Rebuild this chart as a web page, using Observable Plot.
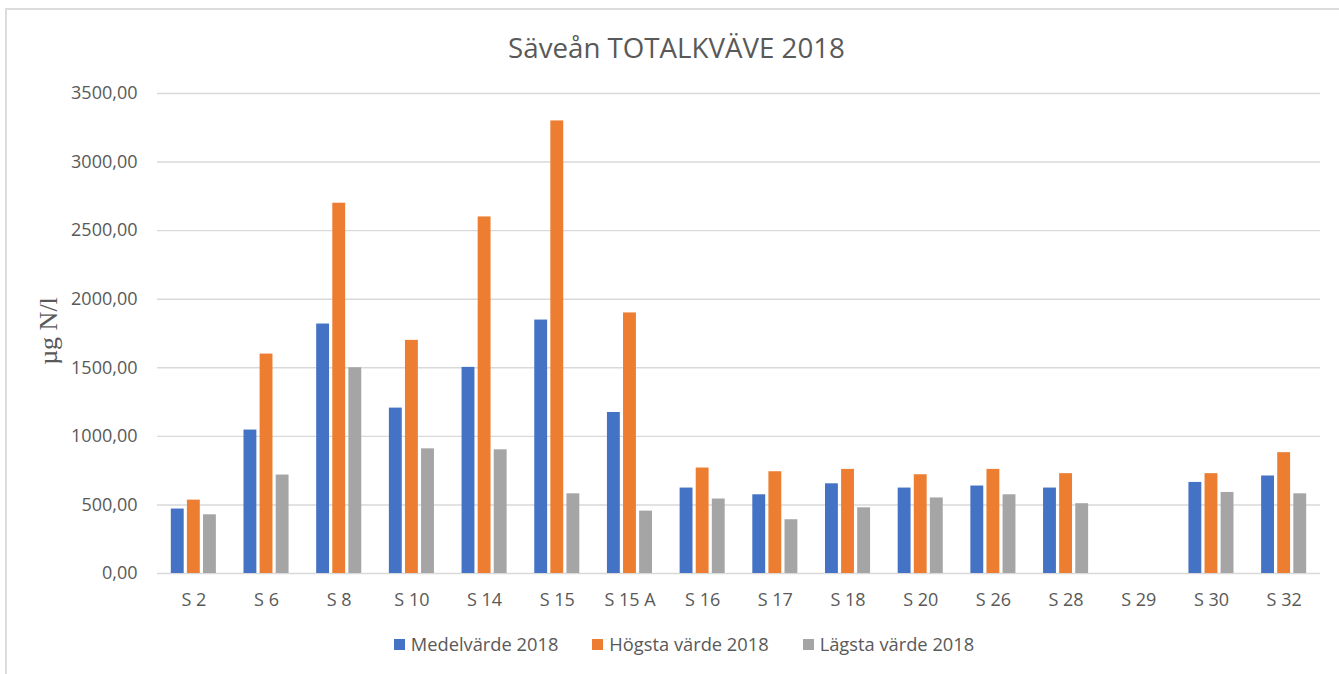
<!DOCTYPE html>
<html>
<head>
<meta charset="utf-8">
<script src="https://cdn.jsdelivr.net/npm/d3@7"></script>
<script src="https://cdn.jsdelivr.net/npm/@observablehq/plot@0.6"></script>
<style>
  body { margin: 0; background: #fff; font-family: "Open Sans", sans-serif; }
  #wrap { position: relative; width: 1339px; height: 674px; overflow: hidden; background: #fff; }
  #frame { position: absolute; left: 5px; top: 8px; width: 1400px; height: 700px; border: 2px solid #dcdcdc; box-sizing: border-box; }
  #title { position: absolute; left: 7px; width: 1339px; top: 31px; text-align: center; font-size: 27.7px; line-height: 32px; color: #595959; }
  #ylabel { position: absolute; left: 49px; top: 331px; transform: translate(-50%, -50%) rotate(-90deg); font-family: "Liberation Serif", serif; font-size: 26px; color: #595959; white-space: nowrap; }
  #legend { position: absolute; left: 0; width: 1339px; top: 632px; display: flex; justify-content: center; gap: 34px; font-size: 18.3px; color: #595959; line-height: 24px; padding-left: 29px; box-sizing: border-box; }
  .item { display: flex; align-items: center; }
  .sw { width: 11px; height: 11px; margin-right: 6px; }
  .layer { position: absolute; left: 0; top: 0; }
</style>
</head>
<body>
<div id="wrap">
  <div id="frame"></div>
  <div id="grid" class="layer"></div>
  <div id="chart" class="layer"></div>
  <div id="title"></div>
  <div id="ylabel"></div>
  <div id="legend"></div>
</div>
<script>
const titleText = "Säveån TOTALKVÄVE 2018";
const yLabelText = "µg N/l";
const stations = ["S 2","S 6","S 8","S 10","S 14","S 15","S 15 A","S 16","S 17","S 18","S 20","S 26","S 28","S 29","S 30","S 32"];
const medel  = [470, 1046, 1819, 1206, 1503, 1848, 1174, 623, 574, 654, 623, 638, 623, null, 664, 711];
const hogsta = [535, 1600, 2700, 1700, 2600, 3300, 1900, 769, 742, 759, 720, 759, 728, null, 728, 881];
const lagsta = [428,  718, 1500,  909,  902,  581,  455, 543, 392, 479, 551, 574, 509, null, 591, 581];
const seriesNames = ["Medelvärde 2018", "Högsta värde 2018", "Lägsta värde 2018"];
const seriesColors = ["#4472C4", "#ED7D31", "#A5A5A5"];
const yTicks = [0, 500, 1000, 1500, 2000, 2500, 3000, 3500];

const seriesValues = [medel, hogsta, lagsta];
const rows = stations.flatMap((s, i) =>
  seriesNames.map((name, k) => ({station: s, series: name, value: seriesValues[k][i]}))
).filter(d => d.value != null);

document.getElementById("title").textContent = titleText;
document.getElementById("ylabel").textContent = yLabelText;

const common = {
  width: 1339,
  height: 674,
  marginTop: 93,
  marginBottom: 101,
  marginLeft: 157,
  marginRight: 19,
  style: { fontFamily: "Open Sans, sans-serif", fontSize: "18px", color: "#595959", background: "transparent", overflow: "visible" }
};

// Underlay: y axis and full-width gridlines
const gridPlot = Plot.plot({
  ...common,
  x: { axis: null },
  y: { domain: [0, 3500], ticks: yTicks, tickFormat: d => d.toFixed(2).replace(".", ","), label: null, tickSize: 0, tickPadding: 20 },
  marks: [
    Plot.ruleY(yTicks, { stroke: "#d9d9d9", strokeWidth: 1.4 })
  ]
});
document.getElementById("grid").appendChild(gridPlot);

// Grouped bars
const chart = Plot.plot({
  ...common,
  fx: { domain: stations, paddingInner: 0.38, paddingOuter: 0.19, round: false, label: null, axis: "bottom", tickSize: 0, tickPadding: 20 },
  x: { domain: seriesNames, paddingInner: 0.2, paddingOuter: 0, round: false, axis: null },
  y: { domain: [0, 3500], axis: null },
  color: { domain: seriesNames, range: seriesColors },
  marks: [
    Plot.barY(rows, { fx: "station", x: "series", y: "value", fill: "series" })
  ]
});
document.getElementById("chart").appendChild(chart);

const legend = document.getElementById("legend");
seriesNames.forEach((n, k) => {
  const it = document.createElement("div");
  it.className = "item";
  const sw = document.createElement("div");
  sw.className = "sw";
  sw.style.background = seriesColors[k];
  const t = document.createElement("span");
  t.textContent = n;
  it.appendChild(sw); it.appendChild(t);
  legend.appendChild(it);
});
</script>
</body>
</html>
